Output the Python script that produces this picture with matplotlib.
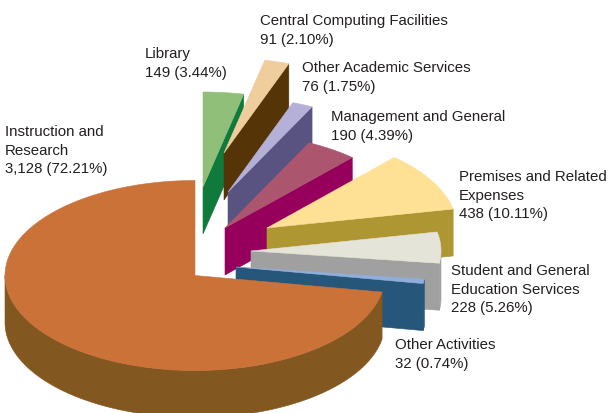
import matplotlib
matplotlib.use('Agg')
import matplotlib.pyplot as plt
from matplotlib.patches import Polygon
import numpy as np

plt.rcParams['font.family'] = ['Liberation Sans', 'DejaVu Sans']

# Data, in pie order (counter-clockwise from the top)
names = ['Instruction and\nResearch', 'Other Activities', 'Student and General\nEducation Services',
         'Premises and Related\nExpenses', 'Management and General', 'Other Academic Services',
         'Central Computing Facilities', 'Library']
values = [3128, 32, 228, 438, 190, 76, 91, 149]
percents = [72.21, 0.74, 5.26, 10.11, 4.39, 1.75, 2.10, 3.44]

# Styles: pie geometry is in pixels of the 611x413 picture
top_colors = ['#CB7238', '#8FAEDC', '#E5E4D8', '#FFE196', '#AB566E', '#B5B0D8', '#EFCD9C', '#8FBF78']
side_colors = ['#835720', '#26567A', '#A0A0A0', '#AE9632', '#96005C', '#585380', '#553408', '#107A3C']
apex_x = [195, 236, 251, 267, 225, 228, 224, 203]
apex_y = [275.5, 267, 251, 228, 228, 192, 153, 187]
label_x = [5, 395, 451, 459, 331, 302, 260, 145]
label_y = [125, 338, 264, 170, 110, 61, 14, 47]
RX, RY = 190, 95
DEPTH = 47
TEXT_COLOR = '#231F20'

fig = plt.figure(figsize=(6.11, 4.13), dpi=100)
ax = fig.add_axes([0, 0, 1, 1])
ax.set_xlim(0, 611)
ax.set_ylim(413, 0)
ax.axis('off')

def rim(cx, cy, a0, a1):
    t = np.radians(np.linspace(a0, a1, 200))
    return np.column_stack([cx + RX * np.cos(t), cy - RY * np.sin(t)])

# angles from the values
sweeps = 360 * np.array(values) / sum(values)
starts = 90 + np.concatenate([[0], np.cumsum(sweeps)[:-1]])

# Library first, main slice last, so the nearer slices cover the farther ones
for i in range(len(values) - 1, -1, -1):
    a0, a1 = starts[i], starts[i] + sweeps[i]
    cx, cy = apex_x[i], apex_y[i]
    arc = rim(cx, cy, a0, a1)
    drop = np.array([0, DEPTH])
    kw = dict(facecolor=side_colors[i], edgecolor=side_colors[i], linewidth=0.4)

    # cut face on the clockwise side of each small slice
    if i > 0:
        p = arc[0]
        ax.add_patch(Polygon([(cx, cy), p, p + drop, (cx, cy + DEPTH)], **kw))

    # outer wall, only the part of the rim that faces the viewer
    lo, hi = max(a0, 180), min(a1, 360)
    if hi > lo:
        wall = rim(cx, cy, lo, hi)
        ax.add_patch(Polygon(np.vstack([wall, wall[::-1] + drop]), **kw))

    ax.add_patch(Polygon(np.vstack([[(cx, cy)], arc]), facecolor=top_colors[i],
                         edgecolor=top_colors[i], linewidth=0.4))

for i in range(len(values)):
    ax.text(label_x[i], label_y[i], f'{names[i]}\n{values[i]:,} ({percents[i]:.2f}%)',
            fontsize=10.85, color=TEXT_COLOR, ha='left', va='top', linespacing=1.41)

fig.savefig('out.png', dpi=100)
